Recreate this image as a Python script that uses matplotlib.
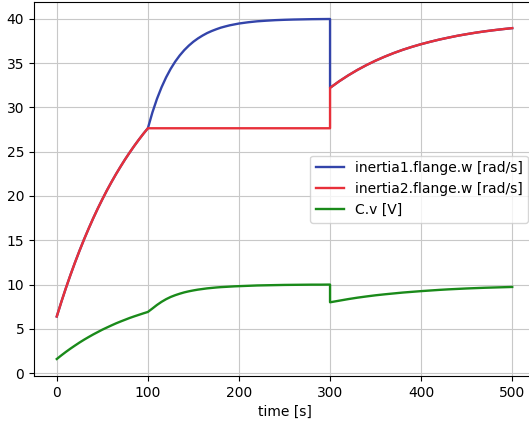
import matplotlib
matplotlib.use('Agg')
from matplotlib import pyplot as plt

# sample times (300 appears twice for the step)
time = [0, 5, 10, 15, 20, 25, 30, 35, 40, 45, 50, 55, 60, 65, 70, 75, 80, 85, 90, 95, 100,
        105, 110, 115, 120, 125, 130, 135, 140, 145, 150,
        155, 160, 165, 170, 175, 180, 185, 190, 195, 200,
        210, 220, 230, 240, 250, 260, 270, 280, 290, 300,
        300, 310, 320, 330, 340, 350, 360, 370, 380, 390, 400,
        410, 420, 430, 440, 450, 460, 470, 480, 490, 500]

inertia1_w = [6.4, 8.04, 9.60, 11.08, 12.49, 13.83, 15.11, 16.32, 17.48, 18.58, 19.62,
              20.62, 21.56, 22.46, 23.31, 24.13, 24.90, 25.64, 26.34, 27.01, 27.64,
              29.43, 30.96, 32.26, 33.38, 34.34, 35.16, 35.86, 36.46, 36.97, 37.41,
              37.78, 38.10, 38.38, 38.61, 38.81, 38.99, 39.13, 39.26, 39.36, 39.46,
              39.60, 39.71, 39.78, 39.84, 39.88, 39.91, 39.93, 39.95, 39.96, 39.97,
              32.20, 32.94, 33.61, 34.22, 34.77, 35.27, 35.72, 36.13, 36.50, 36.83, 37.13,
              37.40, 37.65, 37.87, 38.08, 38.26, 38.43, 38.58, 38.71, 38.83, 38.94]

inertia2_w = [6.4, 8.04, 9.60, 11.08, 12.49, 13.83, 15.11, 16.32, 17.48, 18.58, 19.62,
              20.62, 21.56, 22.46, 23.31, 24.13, 24.90, 25.64, 26.34, 27.01, 27.64,
              27.64, 27.64, 27.64, 27.64, 27.64, 27.64, 27.64, 27.64, 27.64, 27.64,
              27.64, 27.64, 27.64, 27.64, 27.64, 27.64, 27.64, 27.64, 27.64, 27.64,
              27.64, 27.64, 27.64, 27.64, 27.64, 27.64, 27.64, 27.64, 27.64, 27.64,
              32.20, 32.94, 33.61, 34.22, 34.77, 35.27, 35.72, 36.13, 36.50, 36.83, 37.13,
              37.40, 37.65, 37.87, 38.08, 38.26, 38.43, 38.58, 38.71, 38.83, 38.94]

C_v = [1.6, 2.01, 2.40, 2.77, 3.12, 3.46, 3.78, 4.08, 4.37, 4.64, 4.91,
       5.15, 5.39, 5.62, 5.83, 6.03, 6.23, 6.41, 6.58, 6.75, 6.91,
       7.3, 7.7, 8.05, 8.35, 8.6, 8.8, 8.97, 9.12, 9.24, 9.34,
       9.43, 9.5, 9.57, 9.62, 9.67, 9.71, 9.74, 9.77, 9.8, 9.82,
       9.86, 9.9, 9.92, 9.94, 9.96, 9.97, 9.98, 9.99, 9.99, 10.0,
       8.0, 8.18, 8.36, 8.52, 8.66, 8.79, 8.90, 9.0, 9.10, 9.18, 9.26,
       9.33, 9.40, 9.46, 9.51, 9.56, 9.60, 9.64, 9.67, 9.70, 9.73]

fig = plt.figure(figsize=(5.29, 4.22), dpi=100)
ax = fig.add_axes([34/529, 46/422, 501/529, 374/422])

ax.plot(time, inertia1_w, color='#3344aa', lw=1.7, label='inertia1.flange.w [rad/s]')
ax.plot(time, inertia2_w, color='#e8303a', lw=1.7, label='inertia2.flange.w [rad/s]')
ax.plot(time, C_v, color='#1a8a1a', lw=1.7, label='C.v [V]')

ax.grid(True, color='#c8c8c8')
ax.set_xlabel('time [s]')
ax.legend(loc='center right')

fig.savefig('out.png', dpi=100)
